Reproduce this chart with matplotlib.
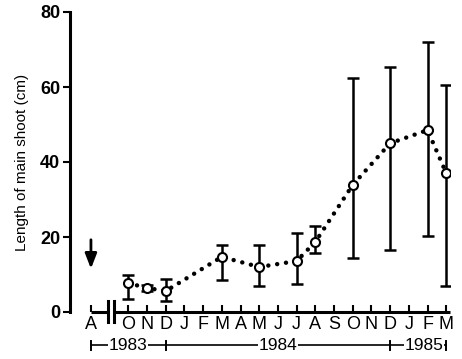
import matplotlib
matplotlib.use("Agg")
from matplotlib import pyplot as plt

plt.rcParams['font.family'] = ['Liberation Sans', 'DejaVu Sans']

# months on the axis (A = Apr 1983 start, then Oct 1983 .. Mar 1985)
month_labels = ["A", "O", "N", "D", "J", "F", "M", "A", "M", "J", "J", "A",
                "S", "O", "N", "D", "J", "F", "M"]
month_pos = [0] + list(range(2, 20))

# measured points
x_obs = [2, 3, 4, 7, 9, 11, 12, 14, 16, 18, 19]
y_obs = [7.7, 6.4, 5.6, 14.7, 12.0, 13.6, 18.7, 33.9, 45.0, 48.5, 37.0]
y_top = [10.0, 7.2, 8.8, 18.0, 18.0, 21.0, 23.0, 62.4, 65.3, 72.0, 60.5]
y_bot = [3.5, 5.6, 2.9, 8.5, 7.0, 7.5, 15.7, 14.4, 16.5, 20.3, 7.0]

years = ["1983", "1984", "1985"]
year_edges = [0, 4, 16, 19]
year_text_x = [2, 10, 17.8]

fig = plt.figure(figsize=(4.62, 3.59), dpi=100)
ax = fig.add_axes([70 / 462, 47 / 359, 380 / 462, 300 / 359])
ax.set_xlim(-1.12, 19.2)
ax.set_ylim(0, 80)

# dotted connecting curve
ax.plot(x_obs, y_obs, color="black", lw=3.2, linestyle=(0, (0.01, 2.0)),
        dash_capstyle="round", zorder=2)

# error bars
lower = [o - b for o, b in zip(y_obs, y_bot)]
upper = [t - o for o, t in zip(y_obs, y_top)]
ax.errorbar(x_obs, y_obs, yerr=[lower, upper], fmt="none", ecolor="black",
            elinewidth=1.8, capsize=4.5, capthick=1.8, zorder=3)
ax.plot(x_obs, y_obs, "o", ms=6.5, mfc="white", mec="black", mew=1.5, zorder=4)

# axes styling
for s in ["top", "right", "bottom"]:
    ax.spines[s].set_visible(False)
ax.spines["left"].set_linewidth(2.2)
ax.set_yticks([0, 20, 40, 60, 80])
ax.tick_params(axis="y", direction="out", length=5, width=1.5, labelsize=13, pad=2)
for lbl in ax.get_yticklabels():
    lbl.set_fontweight("bold")
ax.set_ylabel("Length of main shoot (cm)", fontsize=11, labelpad=8)

ax.set_xticks(month_pos)
ax.set_xticklabels(month_labels, fontsize=13)
ax.tick_params(axis="x", direction="in", length=5, width=1.5, pad=3)

# broken x axis
ax.plot([0, 0.9], [0, 0], color="black", lw=2.2, clip_on=False, solid_capstyle="butt")
ax.plot([1.23, 19.2], [0, 0], color="black", lw=2.2, clip_on=False, solid_capstyle="butt")
for bx in [0.9, 1.23]:
    ax.plot([bx, bx], [-2.7, 2.9], color="black", lw=2.2, clip_on=False)

# arrow at start
ax.annotate("", xy=(0, 10.8), xytext=(0, 20),
            arrowprops=dict(arrowstyle="-|>,head_width=0.35,head_length=0.9",
                            color="black", lw=2))

# year brackets
yb = -8.8
ax.plot([year_edges[0], year_edges[-1]], [yb, yb], color="black", lw=1.2, clip_on=False)
for e in year_edges:
    ax.plot([e, e], [yb - 1.2, yb + 1.2], color="black", lw=1.4, clip_on=False)
for t, xt in zip(years, year_text_x):
    ax.text(xt, yb, t, ha="center", va="center", fontsize=12.5,
            bbox=dict(facecolor="white", edgecolor="none", pad=0.5), clip_on=False)

fig.savefig("out.png", dpi=100)
